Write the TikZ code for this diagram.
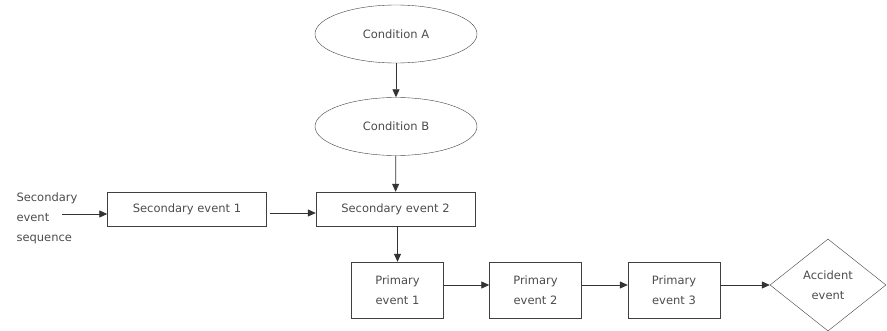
\documentclass[tikz,border=0pt]{standalone}
\usepackage{fontspec}
\setmainfont{DejaVu Sans}
\usetikzlibrary{shapes.geometric,arrows.meta}
\begin{document}
\begin{tikzpicture}[x=1pt,y=-1pt,
    every node/.style={font=\fontsize{11.5}{20}\selectfont, text=black!70},
    condition/.style={draw=black!75, ellipse, minimum width=162pt, minimum height=58pt, inner sep=0pt},
    eventbox/.style={draw=black!75, rectangle, minimum width=159pt, minimum height=34pt, inner sep=0pt},
    primbox/.style={draw=black!75, rectangle, minimum width=92pt, minimum height=56pt, inner sep=0pt, align=center},
    accident/.style={draw=black!75, diamond, minimum width=116pt, minimum height=92pt, inner sep=0pt, align=center},
    flow/.style={-{Triangle[length=8pt,width=7pt]}, draw=black!80, line width=0.8pt}]
    \useasboundingbox (0,0) rectangle (887,331);
    \node[condition] (condA) at (396,34) {Condition A};
    \node[condition] (condB) at (396,126.5) {Condition B};
    \node[eventbox] (sec1) at (187,209) {Secondary event 1};
    \node[eventbox] (sec2) at (395.5,209) {Secondary event 2};
    \node[align=left, anchor=west] (seq) at (13,218) {Secondary\\event\\sequence};
    \coordinate (seqout) at (62,214);
    \node[primbox] (prim1) at (397.5,290) {Primary\\event 1};
    \node[primbox] (prim2) at (535.5,290) {Primary\\event 2};
    \node[primbox] (prim3) at (674,290) {Primary\\event 3};
    \node[accident] (acc) at (828,285) {Accident\\event};
    \draw[flow] (condA) -- (condB);
    \draw[flow] (condB) -- (sec2);
    \draw[flow] (seqout) -- (seqout -| sec1.west);
    \draw[flow] ([xshift=3pt,yshift=-4pt]sec1.east) -- ([yshift=-4pt]sec2.west);
    \draw[flow] (sec2.south -| prim1) -- (prim1);
    \draw[flow] ([yshift=5pt]prim1.east) -- ([yshift=5pt]prim2.west);
    \draw[flow] ([yshift=5pt]prim2.east) -- ([yshift=5pt]prim3.west);
    \draw[flow] ([yshift=5pt]prim3.east) -- (acc.west);
\end{tikzpicture}
\end{document}
